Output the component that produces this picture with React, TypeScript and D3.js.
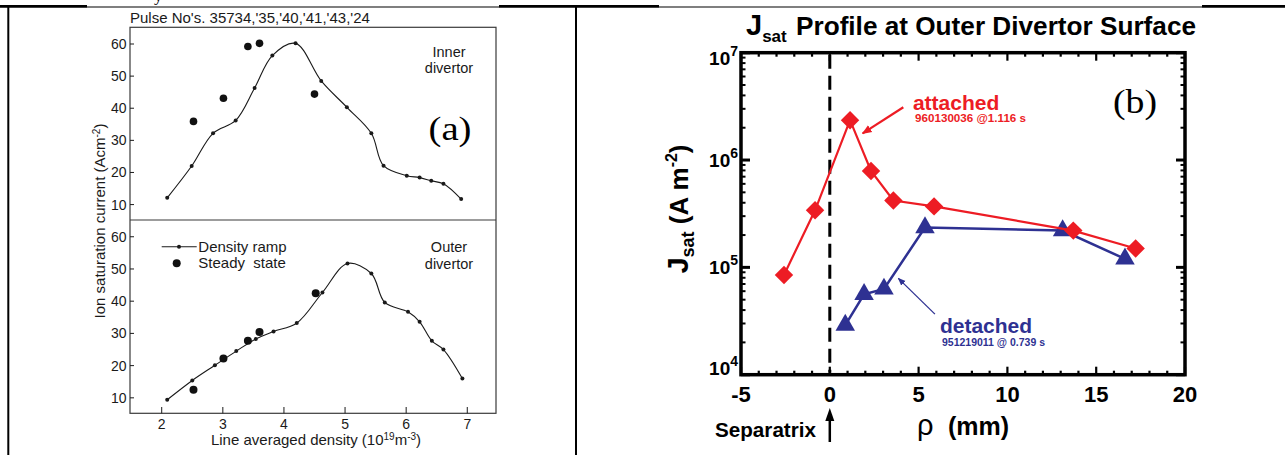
import { useEffect, useRef } from "react";
import * as d3 from "d3";

// (a) ion saturation current vs line averaged density
const densityTicks = [2, 3, 4, 5, 6, 7];
const currentTicks = [10, 20, 30, 40, 50, 60];

const innerRampDensity = [2.09, 2.49, 2.84, 3.21, 3.52, 3.81, 4.19, 4.61, 5.03, 5.43, 5.63, 6.01, 6.22, 6.41, 6.61, 6.9];
const innerRampCurrent = [12.1, 22.0, 32.2, 36.2, 46.3, 56.4, 60.2, 48.5, 40.3, 32.2, 22.1, 19.0, 18.4, 17.4, 16.5, 11.7];
const innerSteadyDensity = [2.52, 3.01, 3.41, 3.6, 4.5];
const innerSteadyCurrent = [35.9, 43.1, 59.2, 60.2, 44.4];

const outerRampDensity = [2.09, 2.5, 2.87, 3.22, 3.54, 3.83, 4.21, 4.63, 5.04, 5.43, 5.65, 6.03, 6.22, 6.42, 6.61, 6.92];
const outerRampCurrent = [9.4, 15.4, 20.1, 24.5, 28.3, 30.6, 33.2, 42.7, 51.7, 48.6, 39.6, 36.7, 33.6, 27.7, 25.0, 16.0];
const outerSteadyDensity = [2.52, 3.01, 3.41, 3.6, 4.52];
const outerSteadyCurrent = [12.5, 22.2, 27.7, 30.4, 42.5];

// (b) Jsat profile at outer divertor surface
const rhoTicks = [-5, 0, 5, 10, 15, 20];
const jsatDecades = [1e4, 1e5, 1e6, 1e7];
const attachedRho = [-2.58, -0.83, 1.14, 2.32, 3.58, 5.87, 13.71, 17.22];
const attachedJsat = [8.5e4, 3.4e5, 2.35e6, 7.9e5, 4.2e5, 3.7e5, 2.2e5, 1.5e5];
const detachedRho = [0.87, 1.93, 3.05, 5.36, 13.11, 16.62];
const detachedJsat = [2.9e4, 5.6e4, 6.3e4, 2.35e5, 2.2e5, 1.2e5];

const W = 1285;
const H = 455;
const sans = "'Liberation Sans', Arial, Helvetica, sans-serif";
const serif = "'Liberation Serif', 'Times New Roman', serif";
const ink = "#1a1a1a";
const red = "#ed1c24";
const blue = "#2e3192";

const App = () => {
  const svgRef = useRef<SVGSVGElement>(null);

  useEffect(() => {
    if (!svgRef.current) return;
    const svg = d3.select(svgRef.current);
    svg.selectAll("*").remove();

    svg.append("rect").attr("width", W).attr("height", H).attr("fill", "#fff");

    // table borders
    svg.append("rect").attr("x", 0).attr("y", 6.5).attr("width", W).attr("height", 1).attr("fill", "#000");
    [[0, 87], [499, 659], [1202, 1285]].forEach(([a, b]) => {
      svg.append("rect").attr("x", a).attr("y", 5).attr("width", b - a).attr("height", 2.5).attr("fill", "#000");
    });
    svg.append("rect").attr("x", 7.3).attr("y", 6).attr("width", 2).attr("height", H).attr("fill", "#000");
    svg.append("rect").attr("x", 575).attr("y", 6).attr("width", 2).attr("height", H).attr("fill", "#000");
    svg.append("text").attr("x", 154).attr("y", 1).attr("font-family", serif).attr("font-size", 17).text("y");

    // ---------- panel (a) ----------
    const a = svg.append("g");
    const ax = d3.scaleLinear().domain([1.481, 7.47]).range([130, 496]);
    const [left, right] = ax.range();

    const subplots = [
      {
        y: d3.scaleLinear().domain([5.2, 65.2]).range([220, 27.3]),
        rx: innerRampDensity, ry: innerRampCurrent,
        sx: innerSteadyDensity, sy: innerSteadyCurrent,
        label: ["Inner", "divertor"], labelY: [56.7, 73.3], dotR: 3.8,
      },
      {
        y: d3.scaleLinear().domain([5.2, 65.2]).range([413.3, 220]),
        rx: outerRampDensity, ry: outerRampCurrent,
        sx: outerSteadyDensity, sy: outerSteadyCurrent,
        label: ["Outer", "divertor"], labelY: [251.7, 269.3], dotR: 4,
      },
    ];

    a.append("rect")
      .attr("x", left).attr("y", 27.3)
      .attr("width", right - left).attr("height", 413.3 - 27.3)
      .attr("fill", "none").attr("stroke", "#3a3a3a").attr("stroke-width", 1.2);
    a.append("line").attr("x1", left).attr("x2", right).attr("y1", 220).attr("y2", 220)
      .attr("stroke", "#3a3a3a").attr("stroke-width", 1.2);

    subplots.forEach((p) => {
      currentTicks.forEach((t) => {
        a.append("line").attr("x1", left).attr("x2", left + 4).attr("y1", p.y(t)).attr("y2", p.y(t))
          .attr("stroke", ink).attr("stroke-width", 1);
        a.append("text").attr("x", left - 3.5).attr("y", p.y(t) + 5)
          .attr("text-anchor", "end").attr("font-family", sans).attr("font-size", 14).attr("fill", ink)
          .text(t);
      });

      const pts: [number, number][] = p.rx.map((d, i) => [ax(d), p.y(p.ry[i])]);
      const line = d3.line().curve(d3.curveCatmullRom.alpha(0.5));
      a.append("path").attr("d", line(pts)).attr("fill", "none").attr("stroke", ink).attr("stroke-width", 1.1);
      a.selectAll(null).data(pts).enter().append("circle")
        .attr("cx", (d) => d[0]).attr("cy", (d) => d[1]).attr("r", 2).attr("fill", ink);
      a.selectAll(null).data(p.sx).enter().append("circle")
        .attr("cx", (d) => ax(d)).attr("cy", (d, i) => p.y(p.sy[i])).attr("r", p.dotR).attr("fill", "#111");

      p.label.forEach((s, i) => {
        a.append("text").attr("x", 449).attr("y", p.labelY[i]).attr("text-anchor", "middle")
          .attr("font-family", sans).attr("font-size", 14.5).attr("fill", ink).text(s);
      });
    });

    densityTicks.forEach((t) => {
      a.append("line").attr("x1", ax(t)).attr("x2", ax(t)).attr("y1", 413.3).attr("y2", 407)
        .attr("stroke", ink).attr("stroke-width", 1);
      a.append("text").attr("x", ax(t)).attr("y", 428.5).attr("text-anchor", "middle")
        .attr("font-family", sans).attr("font-size", 14).attr("fill", ink).text(t);
    });

    const xl = a.append("text").attr("x", 316).attr("y", 445).attr("text-anchor", "middle")
      .attr("font-family", sans).attr("font-size", 15).attr("fill", ink);
    xl.append("tspan").text("Line averaged density (10");
    xl.append("tspan").attr("dy", -5).attr("font-size", 10).text("19");
    xl.append("tspan").attr("dy", 5).text("m");
    xl.append("tspan").attr("dy", -5).attr("font-size", 10).text("-3");
    xl.append("tspan").attr("dy", 5).text(")");

    const yl = a.append("text").attr("transform", "translate(105,221) rotate(-90)").attr("text-anchor", "middle")
      .attr("font-family", sans).attr("font-size", 15).attr("fill", ink);
    yl.append("tspan").text("Ion saturation current (Acm");
    yl.append("tspan").attr("dy", -5).attr("font-size", 10).text("-2");
    yl.append("tspan").attr("dy", 5).text(")");

    a.append("text").attr("x", 130).attr("y", 23).attr("font-family", sans).attr("font-size", 15).attr("fill", ink)
      .text("Pulse No's. 35734,'35,'40,'41,'43,'24");

    a.append("text").attr("x", 450).attr("y", 140).attr("text-anchor", "middle")
      .attr("font-family", serif).attr("font-size", 33).attr("fill", "#000")
      .attr("textLength", 43).attr("lengthAdjust", "spacingAndGlyphs").text("(a)");

    // legend
    a.append("line").attr("x1", 161.7).attr("x2", 196.7).attr("y1", 246.7).attr("y2", 246.7)
      .attr("stroke", ink).attr("stroke-width", 1.1);
    a.append("circle").attr("cx", 179).attr("cy", 246.7).attr("r", 2).attr("fill", ink);
    a.append("text").attr("x", 198.3).attr("y", 252).attr("font-family", sans).attr("font-size", 15).attr("fill", ink)
      .text("Density ramp");
    a.append("circle").attr("cx", 176.7).attr("cy", 263.3).attr("r", 4).attr("fill", "#111");
    a.append("text").attr("x", 198.3).attr("y", 268).attr("font-family", sans).attr("font-size", 15).attr("fill", ink)
      .style("white-space", "pre").text("Steady  state");

    // ---------- panel (b) ----------
    const b = svg.append("g");
    const bx = d3.scaleLinear().domain([-5, 20]).range([741, 1185]);
    const by = d3.scaleLog().domain([1e4, 1e7]).range([374.7, 52.7]);
    const [bl, br] = bx.range();
    const [bb, bt] = by.range();

    // minor/major ticks
    d3.range(-5, 21).forEach((t) => {
      const major = t % 5 === 0;
      const len = major ? 8 : 4;
      const x = bx(t);
      b.append("line").attr("x1", x).attr("x2", x).attr("y1", bb).attr("y2", bb - len)
        .attr("stroke", "#000").attr("stroke-width", 2.2);
      b.append("line").attr("x1", x).attr("x2", x).attr("y1", bt).attr("y2", bt + len)
        .attr("stroke", "#000").attr("stroke-width", 2.2);
    });
    jsatDecades.forEach((d, i) => {
      const mult = i < jsatDecades.length - 1 ? d3.range(1, 10) : [1];
      mult.forEach((m) => {
        const y = by(d * m);
        const len = m === 1 ? 9 : 4.5;
        const sw = m === 1 ? 3 : 2;
        b.append("line").attr("x1", bl).attr("x2", bl + len).attr("y1", y).attr("y2", y)
          .attr("stroke", "#000").attr("stroke-width", sw);
        b.append("line").attr("x1", br).attr("x2", br - len).attr("y1", y).attr("y2", y)
          .attr("stroke", "#000").attr("stroke-width", sw);
      });
    });

    b.append("rect").attr("x", bl).attr("y", bt).attr("width", br - bl).attr("height", bb - bt)
      .attr("fill", "none").attr("stroke", "#000").attr("stroke-width", 3.5);

    b.append("line").attr("x1", bx(0)).attr("x2", bx(0)).attr("y1", bt + 2).attr("y2", bb - 2)
      .attr("stroke", "#000").attr("stroke-width", 3).attr("stroke-dasharray", "14,7");

    // tick labels
    rhoTicks.forEach((t) => {
      b.append("text").attr("x", bx(t)).attr("y", 401.7).attr("text-anchor", "middle")
        .attr("font-family", sans).attr("font-weight", "bold").attr("font-size", 22).attr("fill", "#000")
        .text(t);
    });
    jsatDecades.forEach((d) => {
      const base = Math.min(Math.max(by(d) + 7, bt + 12), bb);
      const t = b.append("text").attr("x", 738).attr("y", base).attr("text-anchor", "end")
        .attr("font-family", sans).attr("font-weight", "bold").attr("font-size", 19).attr("fill", "#000");
      t.append("tspan").text("10");
      t.append("tspan").attr("dy", -9).attr("font-size", 14).text(Math.round(Math.log10(d)));
    });

    // series
    const sym = (type: d3.SymbolType, size: number) => d3.symbol().type(type).size(size)();
    const det: [number, number][] = detachedRho.map((r, i) => [bx(r), by(detachedJsat[i])]);
    const att: [number, number][] = attachedRho.map((r, i) => [bx(r), by(attachedJsat[i])]);
    const straight = d3.line();

    b.append("path").attr("d", straight(det)).attr("fill", "none").attr("stroke", blue).attr("stroke-width", 2.5);
    b.selectAll(null).data(det).enter().append("path")
      .attr("d", sym(d3.symbolTriangle, 165))
      .attr("transform", (d) => `translate(${d[0]},${d[1]})`)
      .attr("fill", blue);

    b.append("path").attr("d", straight(att)).attr("fill", "none").attr("stroke", red).attr("stroke-width", 2.2);
    b.selectAll(null).data(att).enter().append("path")
      .attr("d", sym(d3.symbolSquare, 170))
      .attr("transform", (d) => `translate(${d[0]},${d[1]}) rotate(45)`)
      .attr("fill", red);

    // annotations
    const defs = svg.append("defs");
    [["headRed", red, 4.5], ["headBlue", blue, 6]].forEach(([id, c, s]) => {
      defs.append("marker").attr("id", id as string).attr("viewBox", "0 -5 10 10")
        .attr("refX", 9).attr("refY", 0).attr("markerWidth", s as number).attr("markerHeight", s as number)
        .attr("markerUnits", "strokeWidth").attr("orient", "auto")
        .append("path").attr("d", "M0,-4L10,0L0,4Z").attr("fill", c as string);
    });
    b.append("line")
      .attr("x1", bx(4.14)).attr("y1", by(3.1e6)).attr("x2", bx(1.85)).attr("y2", by(1.77e6))
      .attr("stroke", red).attr("stroke-width", 2.2).attr("marker-end", "url(#headRed)");
    b.append("line")
      .attr("x1", bx(5.92)).attr("y1", by(3.67e4)).attr("x2", bx(3.86)).attr("y2", by(7.9e4))
      .attr("stroke", blue).attr("stroke-width", 1.3).attr("marker-end", "url(#headBlue)");

    b.append("text").attr("x", bx(4.68)).attr("y", by(2.93e6))
      .attr("font-family", sans).attr("font-weight", "bold").attr("font-size", 21).attr("fill", red).text("attached");
    b.append("text").attr("x", bx(4.8)).attr("y", by(2.26e6))
      .attr("font-family", sans).attr("font-weight", "bold").attr("font-size", 10).attr("fill", red)
      .attr("textLength", 111).attr("lengthAdjust", "spacingAndGlyphs").text("960130036 @1.116 s");
    b.append("text").attr("x", bx(6.2)).attr("y", by(2.44e4))
      .attr("font-family", sans).attr("font-weight", "bold").attr("font-size", 21).attr("fill", blue).text("detached");
    b.append("text").attr("x", bx(6.32)).attr("y", by(1.85e4))
      .attr("font-family", sans).attr("font-weight", "bold").attr("font-size", 10).attr("fill", blue)
      .attr("textLength", 103).attr("lengthAdjust", "spacingAndGlyphs").text("951219011 @ 0.739 s");

    b.append("text").attr("x", 1135).attr("y", 113).attr("text-anchor", "middle")
      .attr("font-family", serif).attr("font-size", 33).attr("fill", "#000")
      .attr("textLength", 44).attr("lengthAdjust", "spacingAndGlyphs").text("(b)");

    // title
    const title = b.append("text").attr("x", 746).attr("y", 35)
      .attr("font-family", sans).attr("font-weight", "bold").attr("fill", "#000");
    title.append("tspan").attr("font-size", 29).text("J");
    title.append("tspan").attr("font-size", 17).attr("dy", 7).text("sat");
    b.append("text").attr("x", 796).attr("y", 35)
      .attr("font-family", sans).attr("font-weight", "bold").attr("font-size", 25).attr("fill", "#000")
      .attr("textLength", 400).attr("lengthAdjust", "spacingAndGlyphs")
      .text("Profile at Outer Divertor Surface");

    // y label
    const ylb = b.append("text").attr("transform", "translate(688,209) rotate(-90)").attr("text-anchor", "middle")
      .attr("font-family", sans).attr("font-weight", "bold").attr("fill", "#000");
    ylb.append("tspan").attr("font-size", 29).text("J");
    ylb.append("tspan").attr("font-size", 18).attr("dy", 6).text("sat");
    ylb.append("tspan").attr("font-size", 26).attr("dy", -6).text(" (A m");
    ylb.append("tspan").attr("font-size", 16).attr("dy", -11).text("-2");
    ylb.append("tspan").attr("font-size", 26).attr("dy", 11).text(")");

    // x label and separatrix marker
    b.append("text").attr("x", 917).attr("y", 435)
      .attr("font-family", sans).attr("font-size", 29).attr("fill", "#000").text("ρ");
    b.append("text").attr("x", 948).attr("y", 435)
      .attr("font-family", sans).attr("font-weight", "bold").attr("font-size", 25).attr("fill", "#000").text("(mm)");
    b.append("text").attr("x", 715).attr("y", 437)
      .attr("font-family", sans).attr("font-weight", "bold").attr("font-size", 20).attr("fill", "#000")
      .attr("textLength", 101).attr("lengthAdjust", "spacingAndGlyphs").text("Separatrix");
    const sx = bx(0);
    b.append("line").attr("x1", sx).attr("x2", sx).attr("y1", 442).attr("y2", 418)
      .attr("stroke", "#000").attr("stroke-width", 2.5);
    b.append("path").attr("d", d3.line()([[sx - 4.5, 421], [sx, 408], [sx + 4.5, 421]]) + "Z").attr("fill", "#000");
  }, []);

  return (
    <svg
      ref={svgRef}
      width={W}
      height={H}
      style={{ position: "absolute", left: 0, top: 0, display: "block" }}
    />
  );
};

export default App;
